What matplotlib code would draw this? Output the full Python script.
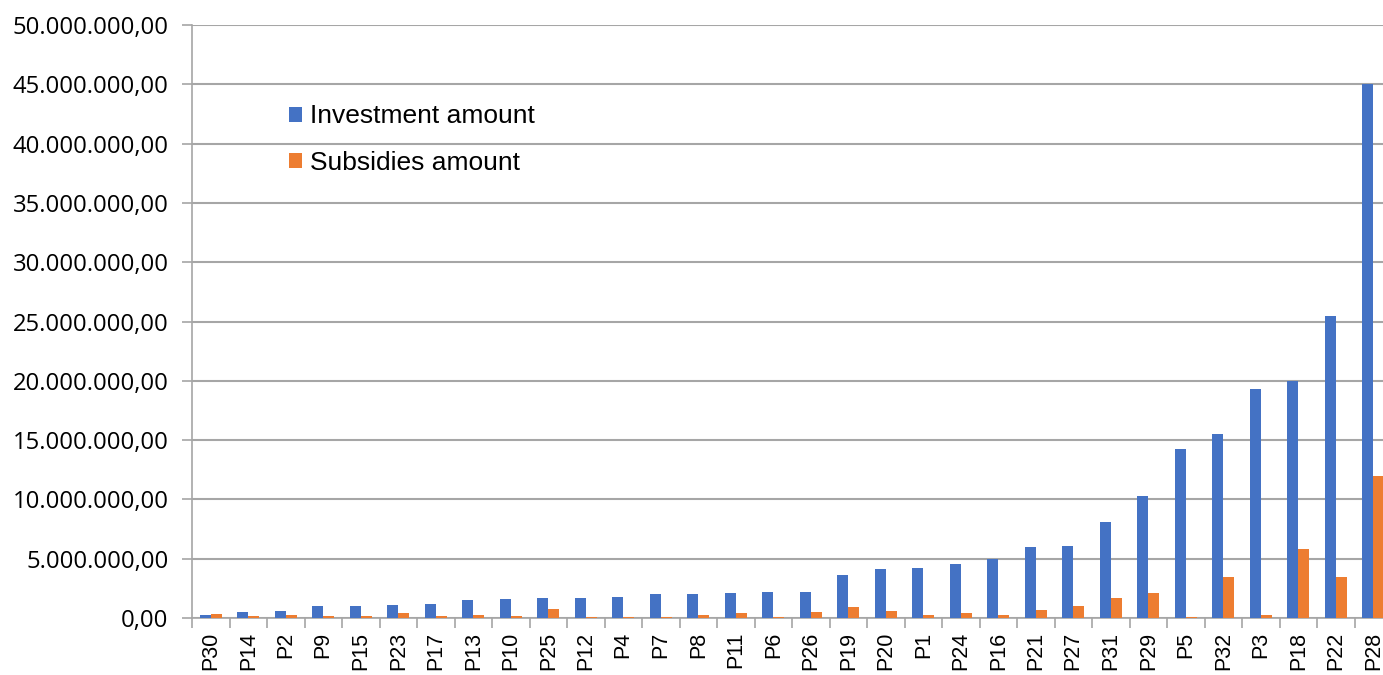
import numpy as np
import matplotlib.pyplot as plt
from matplotlib.ticker import FuncFormatter, MultipleLocator

# projects, sorted by investment
projects = ['P30', 'P14', 'P2', 'P9', 'P15', 'P23', 'P17', 'P13', 'P10', 'P25',
            'P12', 'P4', 'P7', 'P8', 'P11', 'P6', 'P26', 'P19', 'P20', 'P1',
            'P24', 'P16', 'P21', 'P27', 'P31', 'P29', 'P5', 'P32', 'P3', 'P18',
            'P22', 'P28']
investment = [250000, 530000, 590000, 1010000, 1040000, 1070000, 1180000, 1490000,
              1570000, 1690000, 1710000, 1800000, 2000000, 2000000, 2100000,
              2160000, 2160000, 3650000, 4100000, 4240000, 4580000, 5000000,
              6010000, 6040000, 8120000, 10310000, 14270000, 15500000, 19300000,
              20000000, 25450000, 45000000]
subsidies = [370000, 170000, 280000, 200000, 200000, 420000, 170000, 250000,
             200000, 790000, 110000, 110000, 80000, 280000, 390000, 110000,
             510000, 960000, 590000, 220000, 450000, 220000, 650000, 980000,
             1710000, 2130000, 110000, 3430000, 220000, 5790000, 3480000,
             12000000]

BLUE = '#4472c4'
ORANGE = '#ed7d31'
GRID = '#a6a6a6'

plt.rcParams['font.family'] = ['Liberation Sans', 'DejaVu Sans']

fig = plt.figure(figsize=(13.83, 6.75), dpi=100)
ax = fig.add_axes([192 / 1383, 57 / 675, 1200 / 1383, 593 / 675])

x = np.arange(len(projects))
w = 0.29
ax.bar(x - w / 2, investment, width=w, color=BLUE, label='Investment amount', zorder=3)
ax.bar(x + w / 2, subsidies, width=w, color=ORANGE, label='Subsidies amount', zorder=3)

ax.set_xlim(-0.5, len(projects) - 0.5)
ax.set_ylim(0, 50000000)
ax.yaxis.set_major_locator(MultipleLocator(5000000))


def fmt(v, pos):
    s = '{:,.2f}'.format(v)
    return s.replace(',', 'X').replace('.', ',').replace('X', '.')


ax.yaxis.set_major_formatter(FuncFormatter(fmt))
ax.grid(axis='y', color=GRID, linewidth=1.5, zorder=0)

for side in ['top', 'right']:
    ax.spines[side].set_visible(False)
for side in ['left', 'bottom']:
    ax.spines[side].set_color(GRID)
    ax.spines[side].set_linewidth(1.2)

ax.set_xticks(x)
ax.set_xticklabels(projects, rotation=90, fontsize=15.5)
ax.set_xticks(np.arange(-0.5, len(projects)), minor=True)
ax.tick_params(axis='x', which='major', length=0, pad=10)
ax.tick_params(axis='x', which='minor', length=7, color=GRID, width=1.2)
ax.tick_params(axis='y', length=7, color=GRID, width=1.2, labelsize=17.2, pad=10)
for t in ax.get_yticklabels():
    t.set_family(['Open Sans', 'DejaVu Sans'])

ax.legend(loc='upper left', bbox_to_anchor=(0.081, 0.866), frameon=False,
          fontsize=19, handlelength=0.5, handleheight=0.5, handletextpad=0.3,
          labelspacing=0.85, borderpad=0, borderaxespad=0)

fig.savefig('out.png', dpi=100)
